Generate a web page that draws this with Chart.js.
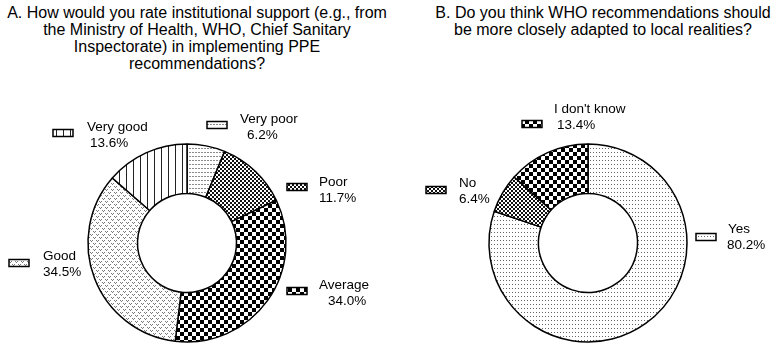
<!DOCTYPE html>
<html><head><meta charset="utf-8">
<script src="https://cdn.jsdelivr.net/npm/chart.js@4"></script>
<style>
html,body{margin:0;padding:0;background:#fff;width:778px;height:346px;overflow:hidden;}
.t{position:absolute;top:4px;font:16px/17px 'Liberation Sans',Arial,sans-serif;color:#000;text-align:center;white-space:nowrap;}
canvas{position:absolute;top:0;}
</style></head><body>
<div class="t" id="tA" style="left:0;width:394px"></div>
<div class="t" id="tB" style="left:403px;width:400px"></div>
<canvas id="cA" width="389" height="346" style="left:0"></canvas>
<canvas id="cB" width="389" height="346" style="left:389px"></canvas>
<script>
// ---- data ----
const titleA = ['A. How would you rate institutional support (e.g., from', 'the Ministry of Health, WHO, Chief Sanitary', 'Inspectorate) in implementing PPE', 'recommendations?'];
const titleB = ['B. Do you think WHO recommendations should', 'be more closely adapted to local realities?'];
const categoriesA = ['Very poor', 'Poor', 'Average', 'Good', 'Very good'];
const valuesA = [6.2, 11.7, 34.0, 34.5, 13.6];
const categoriesB = ['Yes', 'No', "I don't know"];
const valuesB = [80.2, 6.4, 13.4];

// ---- label layout (pixel offsets from doughnut centre) ----
// [markerX, markerCY, line1X, line1Baseline, line2X]
const layoutA = [[20,-118,53,-120,60],[100,-56,132,-57,132],[100,48,132,46,141],[-178,20,-144,17,-144],[-134,-110,-100,-112,-97]];
const layoutB = [[108,-6,140,-10,139],[-162,-53,-129,-56,-129],[-66,-119,-34,-130,-31]];

document.getElementById('tA').innerHTML = titleA.join('<br>');
document.getElementById('tB').innerHTML = titleB.join('<br>');

function makePattern(w, h, draw) {
  const c = document.createElement('canvas');
  c.width = w; c.height = h;
  const x = c.getContext('2d');
  x.fillStyle = '#fff'; x.fillRect(0, 0, w, h);
  draw(x);
  return x.createPattern(c, 'repeat');
}
const pDash = makePattern(3, 4, x => { x.fillStyle = '#8a8a8a'; x.fillRect(0, 0, 2, 1); });
const pFine = makePattern(4, 4, x => { x.fillStyle = '#111'; x.fillRect(0, 0, 2, 2); x.fillRect(2, 2, 2, 2); });
const pBig = makePattern(8, 8, x => { x.fillStyle = '#000'; x.fillRect(0, 0, 4, 4); x.fillRect(4, 4, 4, 4); });
const pGood = makePattern(6, 6, x => { x.fillStyle = '#7a7a7a'; [[0,0],[2,0],[1,1],[3,3],[5,3],[4,4]].forEach(p => x.fillRect(p[0], p[1], 1, 1)); });
const pVert = makePattern(7, 1, x => { x.fillStyle = '#222'; x.fillRect(0, 0, 1, 1); });
const pDots = makePattern(3, 4, x => { x.fillStyle = '#666'; x.fillRect(0, 0, 1, 1); });

const FONT = "13.5px 'Liberation Sans', Arial, sans-serif";
const labelPlugin = {
  id: 'outLabels',
  afterDraw(chart, args, opts) {
    const ctx = chart.ctx;
    const meta = chart.getDatasetMeta(0);
    const ds = chart.data.datasets[0];
    ctx.save();
    ctx.font = FONT;
    ctx.fillStyle = '#000';
    ctx.textBaseline = 'alphabetic';
    ctx.textAlign = 'left';
    meta.data.forEach((arc, i) => {
      const L = opts.layout[i];
      const cx = arc.x, cy = arc.y;
      // marker
      ctx.fillStyle = ds.backgroundColor[i];
      ctx.fillRect(cx + L[0], cy + L[1] - 3.5, 20, 7);
      ctx.strokeStyle = '#000'; ctx.lineWidth = 1.5;
      ctx.strokeRect(cx + L[0], cy + L[1] - 3.5, 20, 7);
      ctx.fillStyle = '#000';
      ctx.fillText(chart.data.labels[i], cx + L[2], cy + L[3]);
      ctx.fillText(ds.data[i].toFixed(1) + '%', cx + L[4], cy + L[3] + 16);
    });
    ctx.restore();
  }
};

function makeChart(id, labels, values, colors, layout, pad) {
  return new Chart(document.getElementById(id), {
    type: 'doughnut',
    data: { labels: labels, datasets: [{ data: values, backgroundColor: colors, borderColor: '#000', borderWidth: 1.5, hoverOffset: 0 }] },
    options: {
      responsive: false, animation: false, cutout: '50%',
      layout: { padding: pad },
      plugins: { legend: { display: false }, tooltip: { enabled: false }, title: { display: false }, outLabels: { layout: layout } }
    },
    plugins: [labelPlugin]
  });
}
makeChart('cA', categoriesA, valuesA, [pDash, pFine, pBig, pGood, pVert], layoutA, { left: 87.25, right: 102.25, top: 143.25, bottom: 3.25 });
makeChart('cB', categoriesB, valuesB, [pDots, pFine, pBig], layoutB, { left: 99.25, right: 90.25, top: 143.25, bottom: 3.25 });
</script>
</body></html>
